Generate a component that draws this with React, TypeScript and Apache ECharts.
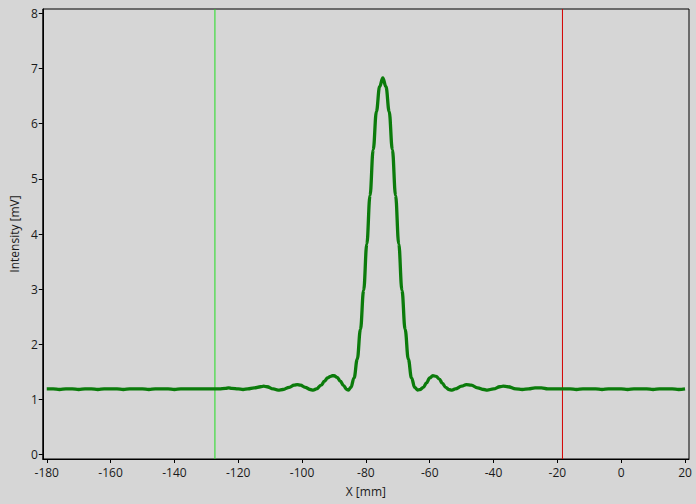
import React, { useEffect, useRef } from "react";
import * as echarts from "echarts";

const xTicks = [-180, -160, -140, -120, -100, -80, -60, -40, -20, 0, 20];
const yTicks = [0, 1, 2, 3, 4, 5, 6, 7, 8];

const positionsMm = [
  -180, -178, -176, -174, -172, -170, -168, -166, -164, -162, -160, -158, -156, -154, -152, -150,
  -148, -146, -144, -142, -140, -138, -136, -134, -132, -130, -128, -126, -124, -123, -122, -120,
  -118.5, -117, -115, -113, -112, -111, -109, -107.5, -106, -104, -102.5, -101.5, -100.5, -99,
  -97.5, -96.5, -95.5, -94, -93, -92, -91, -90.5, -90, -89, -88, -87, -86, -85.5,
  -84.7, -83.7, -82.7, -81.7, -80.7, -79.7, -78.7, -77.7, -76.7, -75.7, -74.7, -73.7, -72.7,
  -71.7, -70.7, -69.7, -68.7, -67.7, -66.7, -65.7, -64.7, -63.8,
  -63, -62, -61, -60, -59, -58, -57, -56, -55, -54, -53, -52, -50, -48.5, -47, -45, -43, -42,
  -40, -38, -37, -35.5, -33, -31, -29, -27, -25, -23, -20, -18, -16, -14, -12, -10, -8, -6, -4,
  -2, 0, 2, 4, 6, 8, 10, 12, 14, 16, 18, 20,
];

const intensityMv = [
  1.19, 1.19, 1.18, 1.19, 1.19, 1.18, 1.19, 1.19, 1.18, 1.19, 1.19, 1.19, 1.18, 1.19, 1.19, 1.19,
  1.18, 1.19, 1.19, 1.19, 1.18, 1.19, 1.19, 1.19, 1.19, 1.19, 1.19, 1.19, 1.20, 1.21, 1.20, 1.19,
  1.18, 1.19, 1.21, 1.23, 1.24, 1.23, 1.19, 1.17, 1.18, 1.22, 1.26, 1.27, 1.26, 1.22,
  1.18, 1.17, 1.19, 1.26, 1.33, 1.39, 1.42, 1.43, 1.43, 1.40, 1.33, 1.25, 1.18, 1.17,
  1.22, 1.39, 1.73, 2.27, 2.98, 3.82, 4.70, 5.53, 6.22, 6.67, 6.83, 6.67, 6.22,
  5.53, 4.70, 3.82, 2.98, 2.27, 1.73, 1.39, 1.22, 1.17,
  1.18, 1.22, 1.30, 1.39, 1.43, 1.42, 1.37, 1.29, 1.22, 1.18, 1.17, 1.19, 1.24, 1.27, 1.26, 1.21, 1.18, 1.17,
  1.19, 1.23, 1.24, 1.23, 1.19, 1.18, 1.19, 1.21, 1.21, 1.19, 1.19, 1.19, 1.19, 1.18, 1.19, 1.19, 1.19, 1.18, 1.19,
  1.19, 1.19, 1.18, 1.19, 1.19, 1.19, 1.18, 1.19, 1.19, 1.19, 1.18, 1.19,
];

const yMin = -0.08;
const yMax = 8.08;
const greenCursorMm = -127.3;
const redCursorMm = -18.4;

export default function App() {
  const ref = useRef<HTMLDivElement>(null);
  useEffect(() => {
    if (!ref.current) return;
    const chart = echarts.init(ref.current, undefined, { renderer: "svg" });
    const data = positionsMm.map((x, i) => [x, intensityMv[i]]);
    const font = "Open Sans";
    const cursor = (x: number, color: string) => ({
      type: "line",
      data: [
        [x, yMin],
        [x, yMax],
      ],
      symbol: "none",
      silent: true,
      z: 1,
      lineStyle: { color, width: 1 },
      emphasis: { disabled: true },
    });
    chart.setOption({
      animation: false,
      backgroundColor: "#d6d6d6",
      grid: {
        left: 39,
        top: 9,
        right: 7,
        bottom: 45,
        show: true,
        borderColor: "#000",
        borderWidth: 1,
        backgroundColor: "transparent",
      },
      xAxis: {
        type: "value",
        min: -181.25,
        max: 21.25,
        name: "X [mm]",
        nameLocation: "middle",
        nameGap: 26,
        nameTextStyle: { color: "#1a1a1a", fontFamily: font, fontSize: 12 },
        axisLine: { show: true, onZero: false, lineStyle: { color: "#000" } },
        axisTick: { show: true, length: 4, customValues: xTicks, lineStyle: { color: "#000" } },
        axisLabel: { customValues: xTicks, margin: 7, color: "#1a1a1a", fontFamily: font, fontSize: 12 },
        splitLine: { show: false },
      },
      yAxis: {
        type: "value",
        min: yMin,
        max: yMax,
        name: "Intensity [mV]",
        nameLocation: "middle",
        nameGap: 20,
        nameTextStyle: { color: "#1a1a1a", fontFamily: font, fontSize: 12 },
        axisLine: { show: true, onZero: false, lineStyle: { color: "#000" } },
        axisTick: { show: true, length: 4, customValues: yTicks, lineStyle: { color: "#000" } },
        axisLabel: { customValues: yTicks, margin: 5, color: "#1a1a1a", fontFamily: font, fontSize: 12 },
        splitLine: { show: false },
      },
      series: [
        cursor(greenCursorMm, "#22dd22"),
        cursor(redCursorMm, "#d40000"),
        {
          type: "line",
          data,
          symbol: "none",
          smooth: 0.4,
          smoothMonotone: "x",
          z: 2,
          lineStyle: { color: "#0b7b0b", width: 3.3 },
        },
      ],
    });
    return () => chart.dispose();
  }, []);
  return (
    <div
      ref={ref}
      style={{ position: "fixed", left: 0, top: 0, width: 696, height: 504 }}
    />
  );
}
